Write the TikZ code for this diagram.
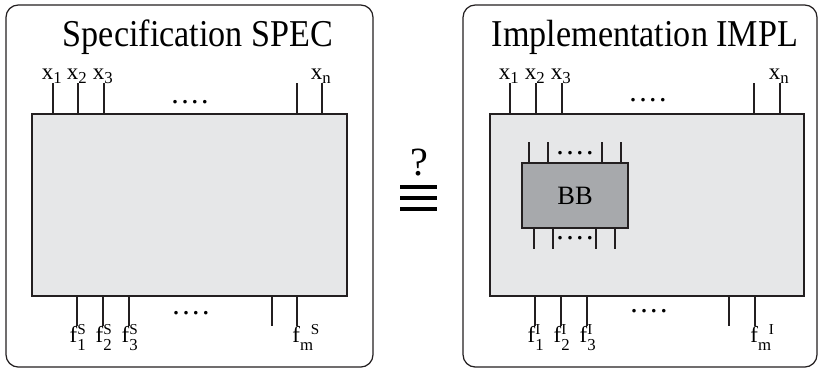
\documentclass[tikz,border=0pt]{standalone}
\usepackage{fontspec}
\setmainfont{Liberation Serif}
\definecolor{innergray}{RGB}{230,231,232}
\definecolor{bbgray}{RGB}{167,169,172}
\definecolor{edge}{RGB}{35,31,32}
\newcommand\labfont{\fontsize{13}{14}\selectfont}
\newcommand\idx[1]{{\fontsize{9.5}{10}\selectfont #1}}
\newcommand\sidx[1]{{\fontsize{8.6}{9}\selectfont #1}}
\newcommand\xlab[1]{\llap{x}\raisebox{-2.5pt}{\idx{#1}}}
\newcommand\flab[2]{\llap{f}\rlap{\raisebox{4.3pt}{\sidx{#1}}}\raisebox{-4.6pt}{\idx{#2}}}
\newcommand\fmlab[1]{\kern1.5pt\llap{f}\raisebox{-4.6pt}{\idx{m}}\kern-1.2pt\raisebox{4.3pt}{\sidx{#1}}}
\newcommand\fourdots{.\kern1.4pt.\kern1.4pt.\kern1.4pt.}
\begin{document}
\begin{tikzpicture}[x=0.567pt,y=-0.567pt,
  outer/.style={draw=edge, line width=0.7pt, rounded corners=7pt, inner sep=0pt},
  inner/.style={draw=edge, fill=innergray, line width=0.7pt, inner sep=0pt},
  bbox/.style={draw=edge, fill=bbgray, line width=0.7pt, inner sep=0pt, font=\fontsize{15}{16}\selectfont},
  pin/.style={draw=edge, line width=0.6pt},
  lab/.style={font=\labfont, inner sep=0pt, anchor=base west},
  dots/.style={font=\fontsize{17}{18}\selectfont, inner sep=0pt, anchor=center},
  title/.style={font=\fontsize{21.5}{24}\selectfont, inner sep=0pt, anchor=base},
  eqbar/.style={draw=black, line width=1.9pt}
]
\useasboundingbox (0,0) rectangle (822,372);

% outer frames
\node[outer, minimum width=208.1pt, minimum height=205.3pt] (spec) at (189.5,186) {};
\node[outer, minimum width=200.7pt, minimum height=205.3pt] (impl) at (640,186) {};

% titles
\node[title] (spect) at (198,46) {\scalebox{0.9}[1]{Specification SPEC}};
\node[title] (implt) at (645,46) {\scalebox{0.9}[1]{Implementation IMPL}};

% inner boxes
\node[inner, minimum width=178.6pt, minimum height=103.2pt] (sin) at (189.5,205) {};
\node[inner, minimum width=178.0pt, minimum height=103.2pt] (iin) at (647,205) {};
\node[bbox, minimum width=60.1pt, minimum height=36.9pt] (bb) at (575,195.5) {BB};

% ---- SPEC top pins
\foreach \n/\x in {a/53,b/78,c/104,d/297,e/322}{
  \coordinate (st\n) at (\x,83);
  \draw[pin] (st\n) -- (st\n |- sin.north);
}
\node[lab] (sx1) at (53,79) {\xlab{1}};
\node[lab] (sx2) at (78,79) {\xlab{2}};
\node[lab] (sx3) at (104,79) {\xlab{3}};
\node[lab] (sxn) at (322,79) {\xlab{n}};
\node[dots] (sdt) at (190,102) {\fourdots};

% ---- SPEC bottom pins
\foreach \n/\x in {a/77,b/103,c/129,d/272,e/297}{
  \coordinate (sb\n) at (\x,326);
  \draw[pin] (sin.south -| sb\n) -- (sb\n);
}
\node[lab] (sf1) at (77,342) {\flab{S}{1}};
\node[lab] (sf2) at (103,342) {\flab{S}{2}};
\node[lab] (sf3) at (129,342) {\flab{S}{3}};
\node[lab] (sfm) at (297,342) {\fmlab{S}};
\node[dots] (sdb) at (191,313) {\fourdots};

% ---- IMPL top pins
\foreach \n/\x in {a/510,b/536,c/562,d/754,e/780}{
  \coordinate (it\n) at (\x,83);
  \draw[pin] (it\n) -- (it\n |- iin.north);
}
\node[lab] (ix1) at (510,79) {\xlab{1}};
\node[lab] (ix2) at (536,79) {\xlab{2}};
\node[lab] (ix3) at (562,79) {\xlab{3}};
\node[lab] (ixn) at (780,79) {\xlab{n}};
\node[dots] (idt) at (648,100) {\fourdots};

% ---- IMPL bottom pins
\foreach \n/\x in {a/535,b/561,c/587,d/729,e/755}{
  \coordinate (ib\n) at (\x,326);
  \draw[pin] (iin.south -| ib\n) -- (ib\n);
}
\node[lab] (if1) at (535,342) {\flab{I}{1}};
\node[lab] (if2) at (561,342) {\flab{I}{2}};
\node[lab] (if3) at (587,342) {\flab{I}{3}};
\node[lab] (ifm) at (755,342) {\fmlab{I}};
\node[dots] (idb) at (649,311) {\fourdots};

% ---- BB pins
\foreach \n/\x in {a/529,b/548,c/602,d/621}{
  \coordinate (bt\n) at (\x,142);
  \draw[pin] (bt\n) -- (bt\n |- bb.north);
}
\foreach \n/\x in {a/534,b/553,c/596,d/615}{
  \coordinate (bbm\n) at (\x,249);
  \draw[pin] (bb.south -| bbm\n) -- (bbm\n);
}
\node[dots] (bdt) at (575,153) {\fourdots};
\node[dots] (bdb) at (575,238) {\fourdots};

% ---- equivalence symbol
\node[font=\fontsize{22.7}{24}\selectfont, inner sep=0pt] (q) at (419,163) {?};
\coordinate (e1) at (400,187); \coordinate (e1r) at (437,187);
\coordinate (e2) at (400,198); \coordinate (e2r) at (437,198);
\coordinate (e3) at (400,209); \coordinate (e3r) at (437,209);
\draw[eqbar] (e1) -- (e1r);
\draw[eqbar] (e2) -- (e2r);
\draw[eqbar] (e3) -- (e3r);
\end{tikzpicture}
\end{document}
